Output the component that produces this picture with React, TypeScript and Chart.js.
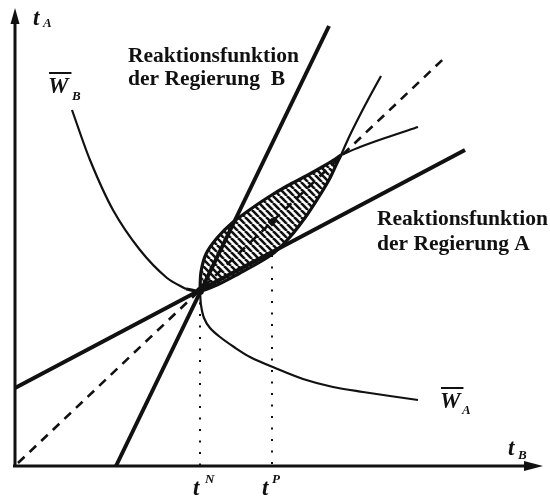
import React, { useEffect, useRef } from "react";
import { Chart, registerables } from "chart.js";
Chart.register(...registerables);

type P = { x: number; y: number };

// ---- data (abstract diagram units) ----
const nashPoint: P[] = [{ x: 37, y: 35 }];
const paretoPoint: P[] = [{ x: 51.4, y: 48.8 }];
const reactionA: P[] = [{ x: 0, y: 15.6 }, { x: 90, y: 63.2 }];
const reactionB: P[] = [{ x: 20.2, y: 0 }, { x: 62.8, y: 88 }];
const diagonal: P[] = [{ x: 0.6, y: 0.6 }, { x: 86.4, y: 82.1 }];

const wbLeft: P[] = [
  { x: 11.4, y: 71.2 }, { x: 15, y: 61.2 }, { x: 19.6, y: 51.2 }, { x: 25, y: 43.2 },
  { x: 30.4, y: 37.6 }, { x: 34.2, y: 35.4 },
];
const lensLower: P[] = [
  { x: 37, y: 35 }, { x: 40.4, y: 36.2 }, { x: 45, y: 38.6 }, { x: 49, y: 40.8 },
  { x: 52, y: 42.8 }, { x: 55, y: 45.8 }, { x: 58.4, y: 50.2 }, { x: 61, y: 54.2 },
  { x: 63, y: 57.6 }, { x: 64.4, y: 60.6 }, { x: 65.2, y: 62.2 },
];
const wbRight: P[] = [{ x: 67, y: 66.2 }, { x: 69, y: 70.2 }, { x: 71, y: 74 }, { x: 73.2, y: 78 }];

const lensUpper: P[] = [
  { x: 37, y: 35 }, { x: 37.2, y: 38.8 }, { x: 38.2, y: 42.4 }, { x: 40.4, y: 45.6 },
  { x: 43.4, y: 48.6 }, { x: 46.6, y: 51 }, { x: 50.4, y: 53.6 }, { x: 54.4, y: 56 },
  { x: 58.4, y: 58.1 }, { x: 61.6, y: 59.9 }, { x: 64.2, y: 61.5 }, { x: 65.2, y: 62.2 },
];
const waUpperEnd: P[] = [{ x: 69, y: 63.8 }, { x: 74, y: 65.6 }, { x: 80.6, y: 67.8 }];
const waLower: P[] = [
  { x: 37.2, y: 32.2 }, { x: 37.8, y: 29.6 }, { x: 39, y: 27.6 }, { x: 41, y: 25.8 },
  { x: 43.8, y: 23.8 }, { x: 47, y: 21.8 }, { x: 52, y: 19.6 }, { x: 57.6, y: 17.4 },
  { x: 63.6, y: 15.8 }, { x: 69.6, y: 14.8 }, { x: 75, y: 14 }, { x: 80.6, y: 13.2 },
];

const tNLine: P[] = [{ x: 37, y: 35 }, { x: 37, y: 0 }];
const tPLine: P[] = [{ x: 51.4, y: 42.2 }, { x: 51.4, y: 0 }];
const axisX: P[] = [{ x: -0.4, y: 0 }, { x: 103, y: 0 }];
const axisY: P[] = [{ x: 0, y: 0 }, { x: 0, y: 89 }];
const axisXTip: P = { x: 105.6, y: 0 };
const axisYTip: P = { x: 0, y: 91.6 };

type Lbl = { text: string; x: number; y: number; kind: "label" | "sym" | "sub"; bar?: boolean };
const annotations: Lbl[] = [
  { text: "Reaktionsfunktion", x: 22.6, y: 80.8, kind: "label" },
  { text: "der Regierung  B", x: 22.6, y: 76.2, kind: "label" },
  { text: "Reaktionsfunktion", x: 72.4, y: 48.2, kind: "label" },
  { text: "der Regierung A", x: 72.4, y: 43.2, kind: "label" },
  { text: "t", x: 3.6, y: 88.2, kind: "sym" },
  { text: "A", x: 5.6, y: 87.8, kind: "sub" },
  { text: "t", x: 98.6, y: 2.2, kind: "sym" },
  { text: "B", x: 100.6, y: 1.4, kind: "sub" },
  { text: "t", x: 35.6, y: -5.8, kind: "sym" },
  { text: "N", x: 38, y: -3.4, kind: "sub" },
  { text: "t", x: 49.4, y: -5.8, kind: "sym" },
  { text: "P", x: 51.4, y: -3.4, kind: "sub" },
  { text: "W", x: 6.6, y: 74.6, kind: "sym", bar: true },
  { text: "B", x: 11.4, y: 73.2, kind: "sub" },
  { text: "W", x: 85, y: 11.6, kind: "sym", bar: true },
  { text: "A", x: 89.4, y: 10.4, kind: "sub" },
];

const INK = "#111";

export default function App() {
  const ref = useRef<HTMLCanvasElement | null>(null);
  useEffect(() => {
    const canvas = ref.current!;
    const ctx = canvas.getContext("2d")!;
    const T = 7;
    const pc = document.createElement("canvas");
    pc.width = T;
    pc.height = T;
    const g = pc.getContext("2d")!;
    g.strokeStyle = INK;
    g.lineWidth = 2.6;
    for (const k of [-1, 0, 1]) {
      g.beginPath();
      g.moveTo(k * T, 0);
      g.lineTo(k * T + T, T);
      g.stroke();
    }
    const pattern = ctx.createPattern(pc, "repeat")!;

    const line = (data: P[], w: number, extra: any = {}) => ({
      data,
      showLine: true,
      borderColor: INK,
      backgroundColor: INK,
      borderWidth: w,
      pointRadius: 0,
      tension: 0,
      clip: false,
      fill: false,
      ...extra,
    });

    const lensPoly = [...lensUpper, ...[...lensLower].reverse()];

    const decor = {
      id: "decor",
      afterDatasetsDraw(chart: any) {
        const c = chart.ctx;
        const xs = chart.scales.x;
        const ys = chart.scales.y;
        const px = (v: number) => xs.getPixelForValue(v);
        const py = (v: number) => ys.getPixelForValue(v);
        c.save();
        c.fillStyle = INK;
        const yt = { x: px(axisYTip.x), y: py(axisYTip.y) };
        c.beginPath();
        c.moveTo(yt.x, yt.y);
        c.lineTo(yt.x - 4.5, yt.y + 16);
        c.lineTo(yt.x + 4.5, yt.y + 16);
        c.closePath();
        c.fill();
        const xt = { x: px(axisXTip.x), y: py(axisXTip.y) };
        c.beginPath();
        c.moveTo(xt.x, xt.y);
        c.lineTo(xt.x - 19, xt.y - 5);
        c.lineTo(xt.x - 19, xt.y + 5);
        c.closePath();
        c.fill();
        c.textBaseline = "alphabetic";
        c.textAlign = "left";
        for (const a of annotations) {
          if (a.kind === "label") c.font = 'bold 21.5px "Liberation Serif"';
          else if (a.kind === "sym") c.font = 'italic bold 23px "Liberation Serif"';
          else c.font = 'italic bold 13px "Liberation Serif"';
          const x = px(a.x);
          const y = py(a.y);
          c.fillText(a.text, x, y);
          if (a.bar) {
            const w = c.measureText(a.text).width;
            c.strokeStyle = INK;
            c.lineWidth = 2;
            c.beginPath();
            c.moveTo(x + 1, y - 20);
            c.lineTo(x + w + 3, y - 20);
            c.stroke();
          }
        }
        c.restore();
      },
    };

    const chart = new Chart(ctx, {
      type: "scatter",
      data: {
        datasets: [
          line(lensPoly, 0, { fill: "shape", backgroundColor: pattern, tension: 0.3, borderWidth: 0 }),
          line(axisX, 3),
          line(axisY, 3),
          line(diagonal, 2.6, { borderDash: [9, 7] }),
          line(tNLine, 2, { borderDash: [2, 9.5] }),
          line(tPLine, 2, { borderDash: [2, 9.5] }),
          line(reactionA, 4),
          line(reactionB, 4),
          line(wbLeft, 2.2, { tension: 0.3 }),
          line([{ x: 34.2, y: 35.4 }, ...lensLower], 3.2, { tension: 0.3 }),
          line([lensLower[lensLower.length - 1], ...wbRight], 2.2, { tension: 0.3 }),
          line([...lensUpper].reverse(), 3.2, { tension: 0.3 }),
          line([lensUpper[lensUpper.length - 1], ...waUpperEnd], 2.2, { tension: 0.3 }),
          line([nashPoint[0], ...waLower], 2.2, { tension: 0.3 }),
          { data: nashPoint, pointRadius: 4, pointBackgroundColor: INK, pointBorderWidth: 0, showLine: false, clip: false },
          { data: paretoPoint, pointRadius: 4.5, pointStyle: "rectRot", pointBackgroundColor: INK, pointBorderWidth: 0, showLine: false, clip: false },
        ],
      },
      options: {
        responsive: false,
        animation: false,
        events: [],
        layout: { padding: { left: 15, right: 5, top: 5, bottom: 33 } },
        plugins: { legend: { display: false }, tooltip: { enabled: false } },
        scales: {
          x: { type: "linear", min: 0, max: 106, display: false },
          y: { type: "linear", min: 0, max: 92.2, display: false },
        },
      },
      plugins: [decor],
    });
    return () => chart.destroy();
  }, []);
  return (
    <div style={{ position: "fixed", left: 0, top: 0, width: 550, height: 499, background: "#fff" }}>
      <canvas ref={ref} width={550} height={499} />
    </div>
  );
}
